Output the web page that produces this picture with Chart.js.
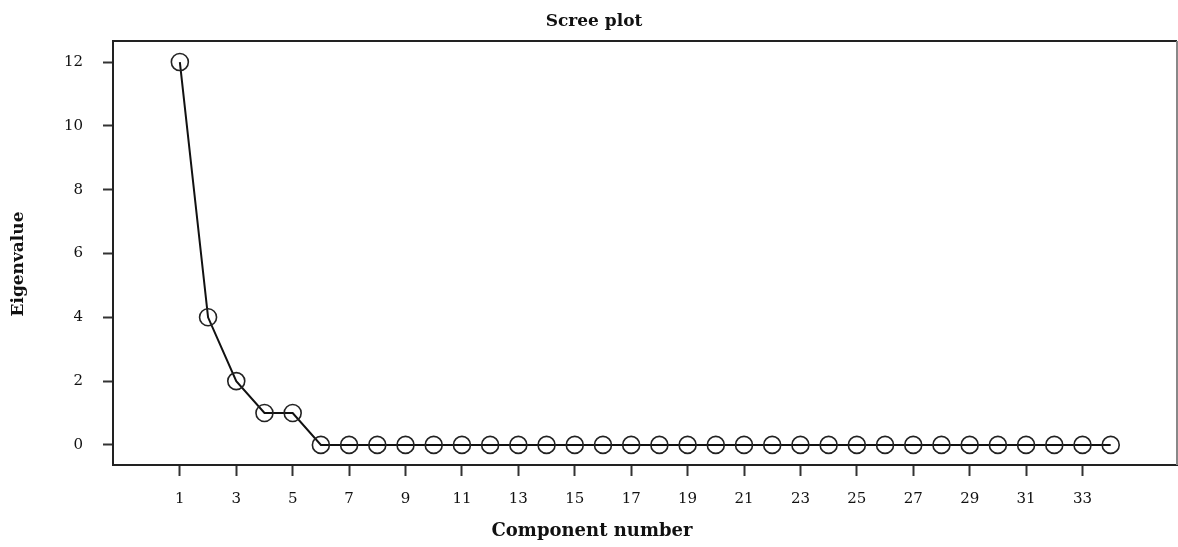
<!DOCTYPE html>
<html><head><meta charset="utf-8">
<script src="https://cdn.jsdelivr.net/npm/chart.js@4.4.1/dist/chart.umd.min.js"></script>
<style>html,body{margin:0;padding:0;background:#fff}#wrap{width:1178px;height:547px}</style>
</head><body><div id="wrap"><canvas id="c" width="1178" height="547"></canvas></div>
<script>
const components = [1,2,3,4,5,6,7,8,9,10,11,12,13,14,15,16,17,18,19,20,21,22,23,24,25,26,27,28,29,30,31,32,33,34];
const eigenvalues = [12,4,2,1,1,0,0,0,0,0,0,0,0,0,0,0,0,0,0,0,0,0,0,0,0,0,0,0,0,0,0,0,0,0];
const xTickValues = [1,3,5,7,9,11,13,15,17,19,21,23,25,27,29,31,33];
const yTickValues = [0,2,4,6,8,10,12];
const titleText = 'Scree plot';
const xTitle = 'Component number';
const yTitle = 'Eigenvalue';
const FONT = '"DejaVu Serif", "Liberation Serif", serif';

const textPlugin = {
  id: 'texts',
  afterDraw(chart) {
    const ctx = chart.ctx, a = chart.chartArea;
    ctx.save();
    ctx.strokeStyle = '#222'; ctx.lineWidth = 2;
    ctx.beginPath(); ctx.moveTo(a.left, a.top); ctx.lineTo(a.right, a.top); ctx.stroke();
    ctx.strokeStyle = '#888';
    ctx.beginPath(); ctx.moveTo(a.right, a.top); ctx.lineTo(a.right, a.bottom); ctx.stroke();
    ctx.fillStyle = '#111';
    ctx.textAlign = 'center'; ctx.textBaseline = 'middle';
    ctx.font = 'bold 17px ' + FONT;
    ctx.fillText(titleText, 594, 22);
    ctx.font = 'bold 18px ' + FONT;
    ctx.fillText(xTitle, 592, 531);
    ctx.font = 'bold 17px ' + FONT;
    ctx.translate(19, 264); ctx.rotate(-Math.PI/2);
    ctx.fillText(yTitle, 0, 0);
    ctx.restore();
  }
};

new Chart(document.getElementById('c'), {
  type: 'scatter',
  data: {
    datasets: [{
      data: components.map((c, i) => ({x: c, y: eigenvalues[i]})),
      showLine: true,
      borderColor: '#111',
      borderWidth: 2,
      pointRadius: 8.5,
      pointBorderWidth: 1.6,
      pointBorderColor: '#222',
      pointBackgroundColor: 'rgba(255,255,255,0)',
      pointStyle: 'circle'
    }]
  },
  options: {
    responsive: false,
    animation: false,
    layout: { autoPadding: false, padding: { top: 41, right: 1, left: 0, bottom: 0 } },
    plugins: { legend: { display: false }, tooltip: { enabled: false }, title: { display: false } },
    scales: {
      x: {
        type: 'linear', min: -1.37, max: 36.35,
        afterBuildTicks(s) { s.ticks = xTickValues.map(v => ({value: v})); },
        afterFit(s) { s.height = 82; },
        grid: { drawOnChartArea: false, drawTicks: true, tickLength: 11, tickWidth: 2, tickColor: '#333' },
        border: { display: true, color: '#222', width: 2 },
        ticks: { padding: 14, color: '#111', font: { family: FONT, size: 15 }, maxRotation: 0, autoSkip: false,
          callback: v => String(v) }
      },
      y: {
        type: 'linear', min: -0.63, max: 12.66,
        afterBuildTicks(s) { s.ticks = yTickValues.map(v => ({value: v})); },
        afterFit(s) { s.width = 113; },
        grid: { drawOnChartArea: false, drawTicks: true, tickLength: 10, tickWidth: 2, tickColor: '#333' },
        border: { display: true, color: '#222', width: 2 },
        ticks: { padding: 20, color: '#111', font: { family: FONT, size: 15 }, autoSkip: false,
          callback: v => String(v) }
      }
    }
  },
  plugins: [textPlugin]
});
</script></body></html>
